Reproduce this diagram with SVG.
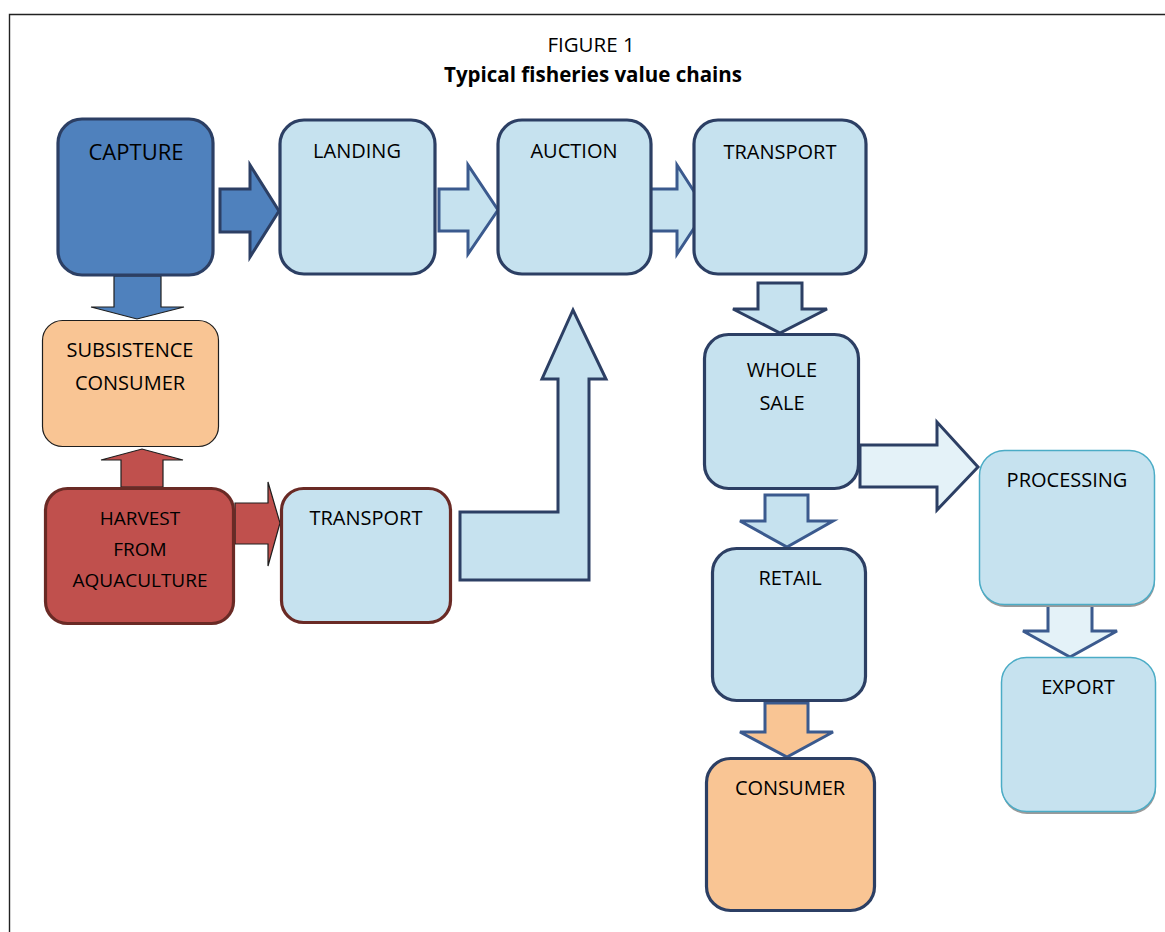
<svg xmlns="http://www.w3.org/2000/svg" width="1165" height="932" viewBox="0 0 1165 932">
<style>
text{font-family:"Open Sans","Liberation Sans",sans-serif;fill:#000;text-anchor:middle}
.lbl{font-size:20px}
.sm{font-size:19px}
.box{stroke:#2C3F64;stroke-width:3.2}
.lb{fill:#C6E2EF}
.arr{fill:#C6E2EF;stroke:#3B5A8E;stroke-width:3;stroke-linejoin:miter}
.arrl{fill:#E4F2F8;stroke:#2C3F64;stroke-width:3}
.thin{stroke:#1E1E1E;stroke-width:1.2}
.teal{fill:#C6E2EF;stroke:#4BACC6;stroke-width:1.5}
.shadow{fill:#9A9A9A}
</style>
<g id="frame"><path d="M9.5,932 V14.5 H1165" fill="none" stroke="#222" stroke-width="1.4"/></g>
<g id="title">
<text x="591" y="52" style="font-size:20.5px">FIGURE 1</text>
<text x="593" y="82" style="font-size:20.5px;font-weight:bold">Typical fisheries value chains</text>
</g>
<g id="connectors">
<polygon class="arr" style="fill:#4F81BD;stroke:#2C3F64" points="220,189 250,189 250,165 279,211 250,257 250,232 220,232"/>
<polygon class="arr" points="439,189 468,189 468,165 498,210 468,254 468,231 439,231"/>
<polygon class="arr" points="647,189 677,189 677,165 706,210 677,254 677,231 647,231"/>
<polygon class="thin" style="fill:#4F81BD" points="114,276 161,276 161,307 184,307 137,319 91,307 114,307"/>
<polygon class="thin" style="fill:#C0504D" points="121,487 121,460 101,460 142,449 183,460 163,460 163,487"/>
<polygon class="thin" style="fill:#C0504D" points="235,503 268,503 268,482 280,523 268,566 268,544 235,544"/>
<polygon class="arr" style="stroke:#2C3F64" points="460,512 558,512 558,379 542,379 573,310 606,379 589,379 589,580 460,580"/>
<polygon class="arr" style="stroke:#2C3F64" points="758,283 802,283 802,309 827,309 780,333 733,309 758,309"/>
<polygon class="arrl" points="860,445 937,445 937,422 978,467 937,510 937,487 860,487"/>
<polygon class="arr" points="765,495 808,495 808,521 833,521 787,547 740,521 765,521"/>
<polygon class="arr" style="fill:#F9C594" points="765,703 808,703 808,732 833,732 787,757 740,732 765,732"/>
<polygon class="arr" style="fill:#E4F2F8" points="1048,605 1092,605 1092,631 1117,631 1070,657 1023,631 1048,631"/>
</g>
<g id="capture"><rect class="box" x="58" y="119" width="155" height="156" rx="24" fill="#4F81BD"/><text x="136" y="160" style="font-size:22px">CAPTURE</text></g>
<g id="landing"><rect class="box lb" x="280" y="120" width="155" height="154" rx="24"/><text class="lbl" x="357" y="158">LANDING</text></g>
<g id="auction"><rect class="box lb" x="498" y="120" width="153" height="154" rx="24"/><text class="lbl" x="574" y="158">AUCTION</text></g>
<g id="transport-top"><rect class="box lb" x="694" y="120" width="172" height="154" rx="24"/><text class="lbl" x="780" y="159">TRANSPORT</text></g>
<g id="subsistence"><rect class="thin" x="42.5" y="320.5" width="176" height="126" rx="20" fill="#F9C594"/><text x="130" y="357" style="font-size:20px">SUBSISTENCE</text><text x="130" y="390" style="font-size:20px">CONSUMER</text></g>
<g id="harvest"><rect x="45.5" y="488.5" width="188" height="135" rx="22" fill="#C0504D" stroke="#6A2A25" stroke-width="3.2"/><text class="sm" x="140" y="525">HARVEST</text><text class="sm" x="140" y="556">FROM</text><text class="sm" x="140" y="587">AQUACULTURE</text></g>
<g id="transport-low"><rect x="281.5" y="488.5" width="169" height="134" rx="22" fill="#C6E2EF" stroke="#6A2A25" stroke-width="3.2"/><text class="lbl" x="366" y="525">TRANSPORT</text></g>
<g id="wholesale"><rect class="box lb" x="704.5" y="334.5" width="154" height="154" rx="24"/><text class="lbl" x="782" y="377">WHOLE</text><text class="lbl" x="782" y="410">SALE</text></g>
<g id="retail"><rect class="box lb" x="712.5" y="548.5" width="153" height="152" rx="24"/><text class="lbl" x="790" y="585">RETAIL</text></g>
<g id="consumer"><rect class="box" x="706.5" y="758.5" width="168" height="152" rx="24" fill="#F9C594"/><text class="lbl" x="790" y="795">CONSUMER</text></g>
<g id="processing"><rect class="shadow" x="980" y="453" width="175" height="154" rx="25"/><rect class="teal" x="979.5" y="450.5" width="175" height="154" rx="25"/><text class="lbl" x="1067" y="487">PROCESSING</text></g>
<g id="export"><rect class="shadow" x="1002" y="660" width="154" height="154" rx="25"/><rect class="teal" x="1001.5" y="657.5" width="154" height="154" rx="25"/><text class="lbl" x="1078" y="694">EXPORT</text></g>
</svg>
